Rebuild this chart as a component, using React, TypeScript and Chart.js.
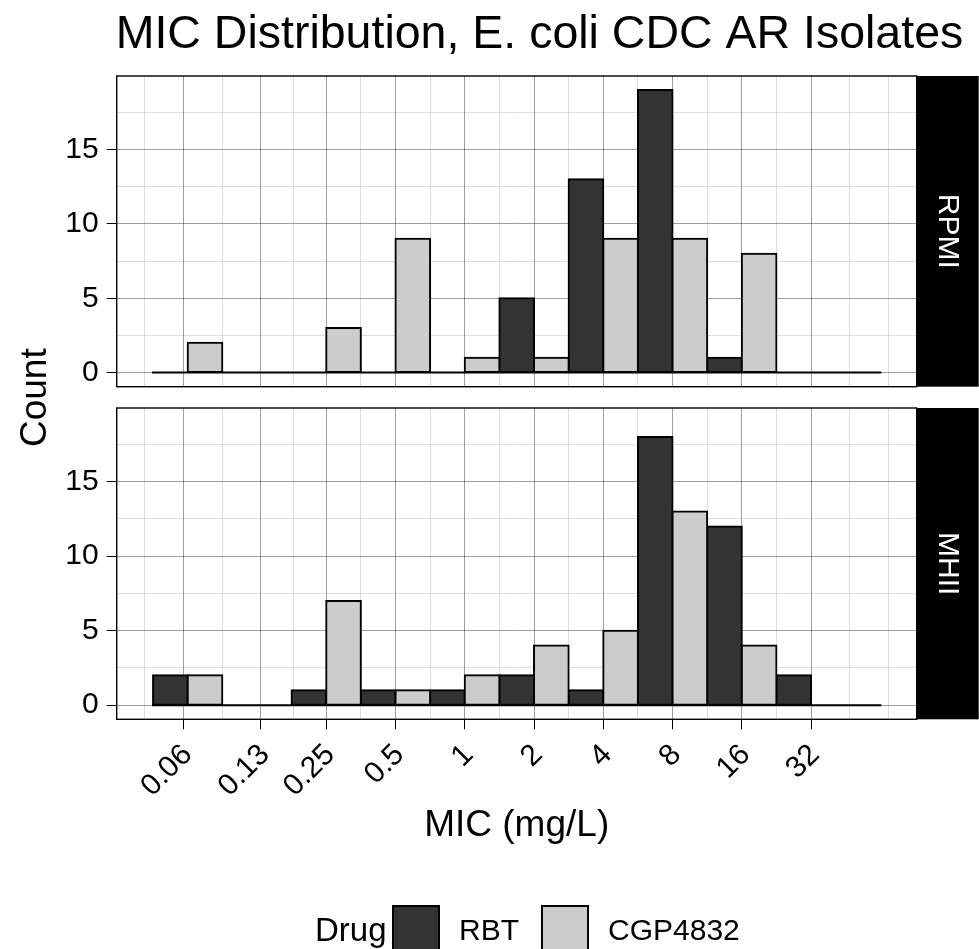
import React, { useEffect, useRef } from 'react';
import { Chart, registerables } from 'chart.js';

Chart.register(...registerables);

// ---------------- data ----------------
const micBins = [0.0625, 0.125, 0.25, 0.5, 1, 2, 4, 8, 16, 32, 64];
const micTickLabels = ['0.06', '0.13', '0.25', '0.5', '1', '2', '4', '8', '16', '32'];
const countTickValues = [0, 5, 10, 15];
const drugNames = ['RBT', 'CGP4832'];
const mediaNames = ['RPMI', 'MHII'];
const rbtRPMI = [0, 0, 0, 0, 0, 5, 13, 19, 1, 0, 0];
const cgpRPMI = [2, 0, 3, 9, 1, 1, 9, 9, 8, 0, null];
const rbtMHII = [2, 0, 1, 1, 1, 2, 1, 18, 12, 2, 0];
const cgpMHII = [2, 0, 7, 1, 2, 4, 5, 13, 4, 0, null];

const chartTitle = 'MIC Distribution, E. coli CDC AR Isolates';
const xTitle = 'MIC (mg/L)';
const yTitle = 'Count';
const legendTitle = 'Drug';

// ---------------- style / layout ----------------
const FONT = '"Liberation Sans", Arial, Helvetica, sans-serif';
const FILLS = ['#333333', '#cccccc'];
const GRID_MAJOR = 'rgba(0,0,0,0.38)';
const GRID_MINOR = 'rgba(0,0,0,0.13)';
const W = 979;
const H = 949;
const PANEL_LEFT = 116.7;
const PANEL_RIGHT = 916.7;
const PANEL_Y = [
  [76, 386.7],
  [408, 719.3],
];
const STRIP_W = 62;
const X_AXIS_H = 120;

Chart.defaults.font.family = FONT;

// ---------------- derived ----------------
const BIN_WIDTH = 1; // one doubling per bin on the log2 axis
const HALF = BIN_WIDTH / 2; // dodged half-bin per drug
const binX = micBins.map((b) => Math.log2(b));

type Pt = { x: number; y: number };
function barPoints(values: (number | null)[], side: number): Pt[] {
  const pts: Pt[] = [];
  values.forEach((v, i) => {
    if (v !== null && v !== undefined) pts.push({ x: binX[i] + (side * HALF) / 2, y: v });
  });
  return pts;
}

const panelSeries = [
  [barPoints(rbtRPMI, -1), barPoints(cgpRPMI, 1)],
  [barPoints(rbtMHII, -1), barPoints(cgpMHII, 1)],
];

const allPts = panelSeries.flat(2);
const dataLo = Math.min(...allPts.map((p) => p.x - HALF / 2));
const dataHi = Math.max(...allPts.map((p) => p.x + HALF / 2));
const xMin = dataLo - 0.05 * (dataHi - dataLo);
const xMax = dataHi + 0.05 * (dataHi - dataLo);
const countMax = Math.max(...allPts.map((p) => p.y));
const yMin = 0 - 0.05 * countMax;
const yMax = countMax + 0.05 * countMax;

function minorBreaks(major: number[], lo: number, hi: number): number[] {
  let b = major.slice();
  const bd = b[1] - b[0];
  if (lo < b[0]) b = [b[0] - bd, ...b];
  if (hi > b[b.length - 1]) b = [...b, b[b.length - 1] + bd];
  const out: number[] = [];
  for (let i = 0; i < b.length - 1; i++) {
    out.push(b[i]);
    out.push((b[i] + b[i + 1]) / 2);
  }
  out.push(b[b.length - 1]);
  return out;
}

type GridTick = { value: number; isMajor: boolean; text: string };
function gridTicks(major: number[], texts: string[], lo: number, hi: number): GridTick[] {
  const ticks: GridTick[] = major.map((v, i) => ({ value: v, isMajor: true, text: texts[i] }));
  minorBreaks(major, lo, hi).forEach((v) => {
    if (v < lo || v > hi) return;
    if (major.some((m) => Math.abs(m - v) < 1e-9)) return;
    ticks.push({ value: v, isMajor: false, text: '' });
  });
  return ticks.sort((a, b) => a.value - b.value);
}

const xMajor = micTickLabels.map((s) => Math.log2(parseFloat(s)));
const xGrid = gridTicks(xMajor, micTickLabels, xMin, xMax);
const yGrid = gridTicks(
  countTickValues,
  countTickValues.map((v) => String(v)),
  yMin,
  yMax
);

const gridColor = (c: any) => (c.tick && c.tick.isMajor ? GRID_MAJOR : GRID_MINOR);
const tickColor = (c: any) => (c.tick && c.tick.isMajor ? '#000' : 'rgba(0,0,0,0)');
const tickText = (_v: any, i: number, ticks: any[]) => (ticks[i] && ticks[i].isMajor ? ticks[i].text : '');

function decorPlugin(panel: number) {
  return {
    id: 'facetDecor' + panel,
    afterDraw(chart: any) {
      const { ctx, chartArea: a } = chart;
      ctx.save();
      // panel border
      ctx.strokeStyle = '#000';
      ctx.lineWidth = 1.4;
      ctx.strokeRect(a.left, a.top, a.right - a.left, a.bottom - a.top);
      // strip
      ctx.fillStyle = '#000';
      ctx.fillRect(a.right, a.top, STRIP_W, a.bottom - a.top);
      ctx.save();
      ctx.fillStyle = '#fff';
      ctx.font = `30px ${FONT}`;
      ctx.textAlign = 'center';
      ctx.textBaseline = 'middle';
      ctx.translate(a.right + STRIP_W / 2, (a.top + a.bottom) / 2);
      ctx.rotate(Math.PI / 2);
      ctx.fillText(mediaNames[panel], 0, 0);
      ctx.restore();

      ctx.fillStyle = '#000';
      if (panel === 0) {
        // title
        ctx.font = `46.5px ${FONT}`;
        ctx.textAlign = 'left';
        ctx.textBaseline = 'alphabetic';
        ctx.fillText(chartTitle, a.left - 1, 48);
        // y title spanning both panels
        ctx.save();
        ctx.font = `37px ${FONT}`;
        ctx.textAlign = 'center';
        ctx.translate(46, (PANEL_Y[0][0] + PANEL_Y[1][1]) / 2);
        ctx.rotate(-Math.PI / 2);
        ctx.fillText(yTitle, 0, 0);
        ctx.restore();
      } else {
        // x title
        ctx.font = `37px ${FONT}`;
        ctx.textAlign = 'center';
        ctx.textBaseline = 'alphabetic';
        ctx.fillText(xTitle, (a.left + a.right) / 2, 836);
        // legend
        const keyTop = 906;
        const keySize = 46;
        const baseY = 940;
        ctx.textAlign = 'left';
        ctx.font = `33px ${FONT}`;
        ctx.fillText(legendTitle, 315, baseY + 1);
        const keyX = [393, 542];
        ctx.font = `30px ${FONT}`;
        chart.data.datasets
          .filter((d: any) => d.type !== 'line')
          .forEach((d: any, i: number) => {
            ctx.fillStyle = d.backgroundColor;
            ctx.fillRect(keyX[i], keyTop, keySize, keySize);
            ctx.strokeStyle = '#000';
            ctx.lineWidth = 2;
            ctx.strokeRect(keyX[i], keyTop, keySize, keySize);
            ctx.fillStyle = '#000';
            ctx.fillText(d.label, keyX[i] + keySize + 20, baseY);
          });
      }
      ctx.restore();
    },
  };
}

function makeChart(canvas: HTMLCanvasElement, panel: number) {
  const [top, bottom] = PANEL_Y[panel];
  const isBottom = panel === 1;
  const axisH = isBottom ? X_AXIS_H : 0;
  const [rbt, cgp] = panelSeries[panel];
  const barStyle = {
    borderColor: '#000',
    borderWidth: 2,
    borderSkipped: false,
    inflateAmount: 1,
    grouped: false,
    barPercentage: 1,
    categoryPercentage: 1,
    xAxisID: 'x',
    yAxisID: 'y',
  };
  return new Chart(canvas, {
    type: 'bar',
    data: {
      datasets: [
        { ...barStyle, label: drugNames[0], data: rbt, backgroundColor: FILLS[0], order: 2 },
        { ...barStyle, label: drugNames[1], data: cgp, backgroundColor: FILLS[1], order: 1 },
        {
          type: 'line',
          label: 'zero',
          data: [
            { x: dataLo, y: 0 },
            { x: dataHi, y: 0 },
          ],
          borderColor: '#000',
          borderWidth: 2,
          borderCapStyle: 'square',
          pointRadius: 0,
          xAxisID: 'x',
          yAxisID: 'y',
          order: 0,
        },
      ] as any,
    },
    options: {
      animation: false,
      responsive: false,
      maintainAspectRatio: false,
      events: [],
      layout: {
        padding: { left: 0, top, right: W - PANEL_RIGHT, bottom: H - bottom - axisH },
      },
      plugins: {
        legend: { display: false },
        tooltip: { enabled: false },
        title: { display: false },
      },
      scales: {
        x: {
          type: 'linear',
          axis: 'x',
          display: false,
          offset: false,
          grid: { offset: false },
          min: xMin,
          max: xMax,
        },
        xg: {
          type: 'linear',
          axis: 'x',
          position: 'bottom',
          offset: false,
          min: xMin,
          max: xMax,
          afterBuildTicks: (s: any) => {
            s.ticks = xGrid.map((t) => ({ ...t }));
          },
          afterFit: (s: any) => {
            s.height = axisH;
          },
          grid: {
            offset: false,
            color: gridColor,
            tickColor,
            lineWidth: 1,
            tickWidth: 1,
            tickLength: 10,
            drawTicks: isBottom,
          },
          border: { display: false },
          ticks: {
            display: isBottom,
            autoSkip: false,
            minRotation: 45,
            maxRotation: 45,
            padding: 8,
            labelOffset: 4,
            color: '#000',
            font: { size: 30, family: FONT },
            callback: tickText,
          },
        },
        y: {
          type: 'linear',
          min: yMin,
          max: yMax,
          afterBuildTicks: (s: any) => {
            s.ticks = yGrid.map((t) => ({ ...t }));
          },
          afterFit: (s: any) => {
            s.width = PANEL_LEFT;
          },
          grid: { color: gridColor, tickColor, lineWidth: 1, tickWidth: 1, tickLength: 10 },
          border: { display: false },
          ticks: {
            autoSkip: false,
            padding: 8,
            color: '#000',
            font: { size: 30, family: FONT },
            callback: tickText,
          },
        },
      } as any,
    },
    plugins: [decorPlugin(panel)],
  } as any);
}

export default function App() {
  const topRef = useRef<HTMLCanvasElement>(null);
  const botRef = useRef<HTMLCanvasElement>(null);
  useEffect(() => {
    const charts: Chart[] = [];
    if (topRef.current) charts.push(makeChart(topRef.current, 0));
    if (botRef.current) charts.push(makeChart(botRef.current, 1));
    return () => charts.forEach((c) => c.destroy());
  }, []);
  const cs: React.CSSProperties = { position: 'absolute', left: 0, top: 0, width: W, height: H };
  return (
    <div style={{ position: 'absolute', left: 0, top: 0, width: W, height: H, background: '#fff', overflow: 'hidden' }}>
      <canvas ref={topRef} width={W} height={H} style={cs} />
      <canvas ref={botRef} width={W} height={H} style={cs} />
    </div>
  );
}
